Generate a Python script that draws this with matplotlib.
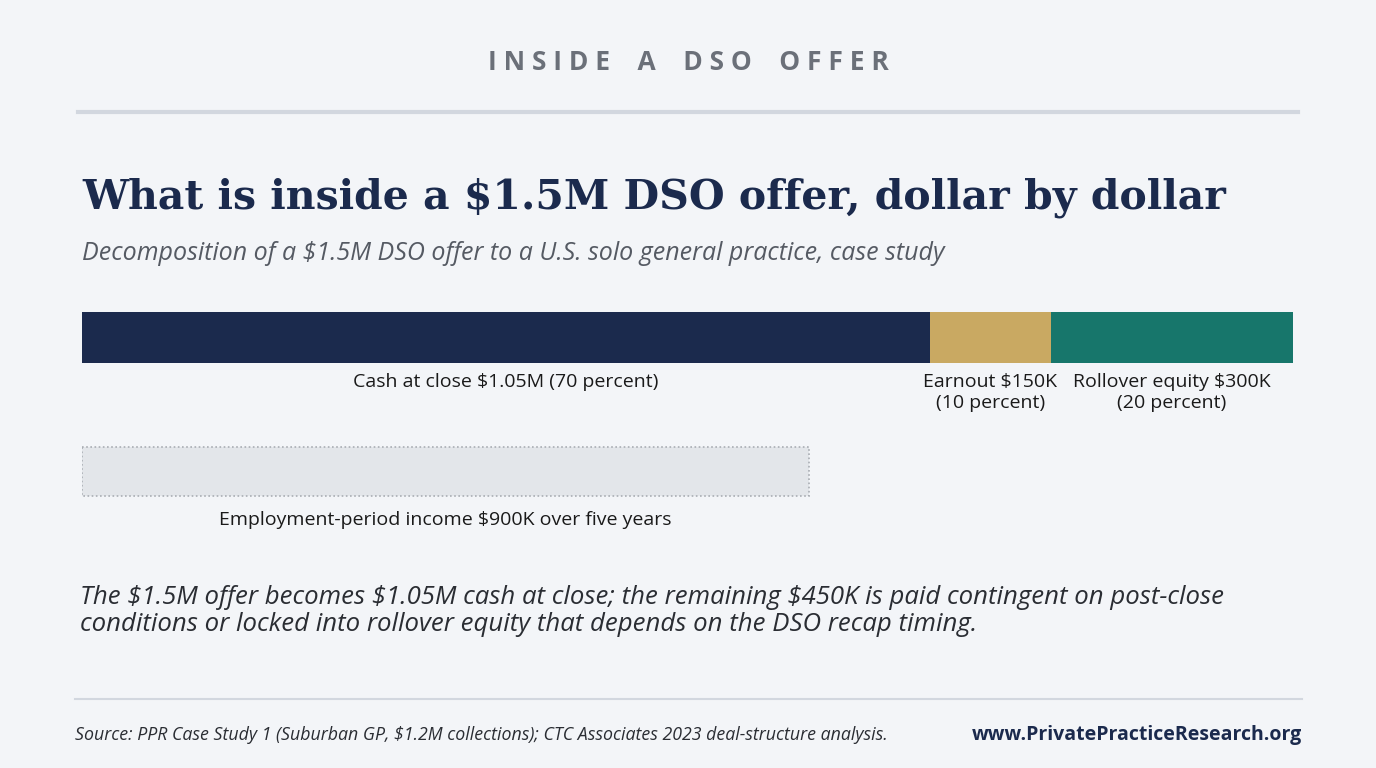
import matplotlib.pyplot as plt
from matplotlib.patches import Rectangle

# offer components, $M
segments = ["Cash at close", "Earnout", "Rollover equity"]
values = [1.05, 0.15, 0.30]
colors = ["#1b2a4d", "#c9a962", "#17766b"]
labels = ["Cash at close $1.05M (70 percent)",
          "Earnout $150K\n(10 percent)",
          "Rollover equity $300K\n(20 percent)"]
employment_income = 0.90
employment_label = "Employment-period income $900K over five years"

W, H = 1376, 768
fig = plt.figure(figsize=(W / 100, H / 100), dpi=100)
fig.patch.set_facecolor("#f3f5f8")

def fx(px):
    return px / W

def fy(py):
    return 1 - py / H

fig.text(0.5, fy(63), " ".join("INSIDE A DSO OFFER").replace("   ", "    "), ha="center", va="center",
         fontsize=19, fontweight="bold", color="#6b7079", family="Open Sans")
fig.add_artist(plt.Line2D([fx(78), fx(1298)], [fy(112), fy(112)], color="#d2d7df", lw=3))
fig.text(fx(82), fy(198), "What is inside a $1.5M DSO offer, dollar by dollar",
         ha="left", va="center", fontsize=29.5, fontweight="bold", color="#1b2a4d",
         family="DejaVu Serif")
fig.text(fx(82), fy(253), "Decomposition of a $1.5M DSO offer to a U.S. solo general practice, case study",
         ha="left", va="center", fontsize=18, style="italic", color="#555a63", family="Open Sans")

ax = fig.add_axes([fx(82), fy(540), fx(1293) - fx(82), fy(300) - fy(540)])
ax.set_xlim(0, sum(values))
ax.set_ylim(540, 300)
ax.axis("off")

left = 0
for v, c, lab in zip(values, colors, labels):
    ax.barh(337.5, v, left=left, height=51, color=c)
    ax.text(left + v / 2, 373, lab, ha="center", va="top", fontsize=14,
            color="#1a1a1a", family="Open Sans", linespacing=1.2)
    left += v

ax.add_patch(Rectangle((0, 447), employment_income, 49, facecolor="#e3e6ea",
                       edgecolor="#a9adb3", lw=1.2, ls=(0, (1, 1.5))))
ax.text(employment_income / 2, 520, employment_label, ha="center", va="center",
        fontsize=14, color="#1a1a1a", family="Open Sans")

fig.text(fx(80), fy(611), "The $1.5M offer becomes $1.05M cash at close; the remaining $450K is paid contingent on post-close\n"
         "conditions or locked into rollover equity that depends on the DSO recap timing.",
         ha="left", va="center", fontsize=18.5, style="italic", color="#2a2d33",
         family="Open Sans", linespacing=1.1)
fig.add_artist(plt.Line2D([fx(75), fx(1302)], [fy(699), fy(699)], color="#d2d7df", lw=1.5))
fig.text(fx(75), fy(735), "Source: PPR Case Study 1 (Suburban GP, $1.2M collections); CTC Associates 2023 deal-structure analysis.",
         ha="left", va="center", fontsize=12.8, style="italic", color="#2a2d33", family="Open Sans")
fig.text(fx(1302), fy(735), "www.PrivatePracticeResearch.org", ha="right", va="center",
         fontsize=14, fontweight="bold", color="#1b2a4d", family="Open Sans")

fig.savefig("out.png", dpi=100, facecolor=fig.get_facecolor())
